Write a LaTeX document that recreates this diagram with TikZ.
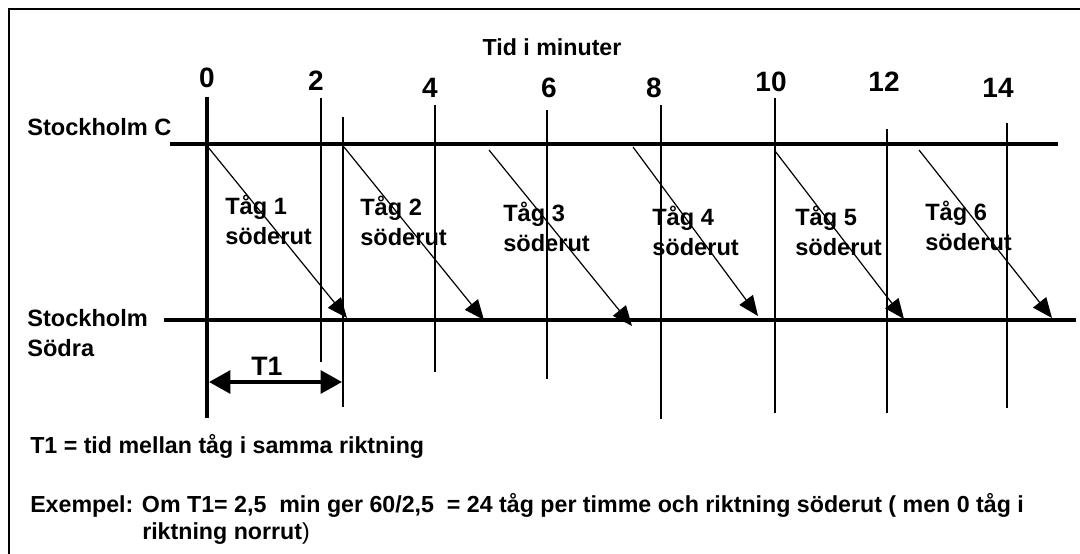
\documentclass[tikz,border=0pt]{standalone}
\usepackage{fontspec}
\setmainfont{Liberation Sans}
\usetikzlibrary{arrows.meta}

\begin{document}
\begin{tikzpicture}[
    x=0.75pt, y=-0.75pt,
    station/.style={font=\bfseries\fontsize{17.7}{21.8}\selectfont, align=left, anchor=base west, inner sep=0pt},
    minute/.style={font=\bfseries\fontsize{21}{25}\selectfont, anchor=base, inner sep=0pt},
    trainlabel/.style={font=\bfseries\fontsize{17.7}{22.5}\selectfont, align=left, anchor=base west, inner sep=0pt},
    note/.style={font=\bfseries\fontsize{17.4}{20}\selectfont, anchor=base west, inner sep=0pt},
    track/.style={line width=3.3pt},
    tick/.style={line width=2.2pt},
    train/.style={line width=0.9pt, -{Triangle[length=15pt, width=12.5pt]}},
    span/.style={line width=3pt, {Triangle[length=16pt, width=17pt]}-{Triangle[length=16pt, width=17pt]}}
]
\clip (0,0) rectangle (1080,553);

% Frame
\draw[line width=2pt] (9,9) rectangle (1100,600);

% Stations and tracks
\node (stC) [station] at (27,135) {Stockholm C};
\node (stS) [station] at (27,356) {Stockholm\\Södra};
\draw[track] (170,144) -- (1058,144);
\draw[track] (164,320) -- (1076,320);

% Time axis
\node (axis) [note, anchor=base] at (552,55) {Tid i minuter};
\node (min0) [minute] at (207,87) {0};
\node (min2) [minute] at (316,90) {2};
\node (min4) [minute] at (430,97) {4};
\node (min6) [minute] at (549,97) {6};
\node (min8) [minute] at (654,97) {8};
\node (min10) [minute] at (771,91) {10};
\node (min12) [minute] at (884,91) {12};
\node (min14) [minute] at (998,97) {14};

\draw[track] (207,97) -- (207,418);
\draw[tick] (321,98) -- (321,362);
\draw[tick] (343,117) -- (343,407);
\draw[tick] (435,105) -- (435,372);
\draw[tick] (547,110) -- (547,379);
\draw[tick] (661,105) -- (661,419);
\draw[tick] (775,98) -- (775,413);
\draw[tick] (887,129) -- (887,413);
\draw[tick] (1007,123) -- (1007,408);

% Trains
\coordinate (dep1) at (208,147);  \coordinate (arr1) at (347,318);
\coordinate (dep2) at (344,147);  \coordinate (arr2) at (484,320);
\coordinate (dep3) at (489,150);  \coordinate (arr3) at (632,326);
\coordinate (dep4) at (633,147);  \coordinate (arr4) at (758,316);
\coordinate (dep5) at (775,151);  \coordinate (arr5) at (904,319);
\coordinate (dep6) at (919,150);  \coordinate (arr6) at (1052,318);

\node (tag1) [trainlabel] at (225,244) {Tåg 1\\söderut};
\node (tag2) [trainlabel] at (360,245) {Tåg 2\\söderut};
\node (tag3) [trainlabel] at (503,251) {Tåg 3\\söderut};
\node (tag4) [trainlabel] at (652,255) {Tåg 4\\söderut};
\node (tag5) [trainlabel] at (795,255) {Tåg 5\\söderut};
\node (tag6) [trainlabel] at (925,250) {Tåg 6\\söderut};

\draw[train] (dep1) -- (arr1);
\draw[train] (dep2) -- (arr2);
\draw[train] (dep3) -- (arr3);
\draw[train] (dep4) -- (arr4);
\draw[train] (dep5) -- (arr5);
\draw[train] (dep6) -- (arr6);

% Headway
\coordinate (t1a) at (209,382);
\coordinate (t1b) at (342,382);
\draw[span] (t1a) -- (t1b);
\node (t1) [minute, font=\bfseries\fontsize{20}{24}\selectfont] at (267,375) {T1};

% Notes
\node (def) [note] at (30,453) {T1 = tid mellan tåg i samma riktning};
\node (ex1) [note] at (30,512) {Exempel: Om T1= 2,5~~min ger 60/2,5~~= 24 tåg per timme och riktning söderut ( men 0 tåg i};
\node (ex2) [note] at (142,539) {riktning norrut{\mdseries)}};

\end{tikzpicture}
\end{document}
